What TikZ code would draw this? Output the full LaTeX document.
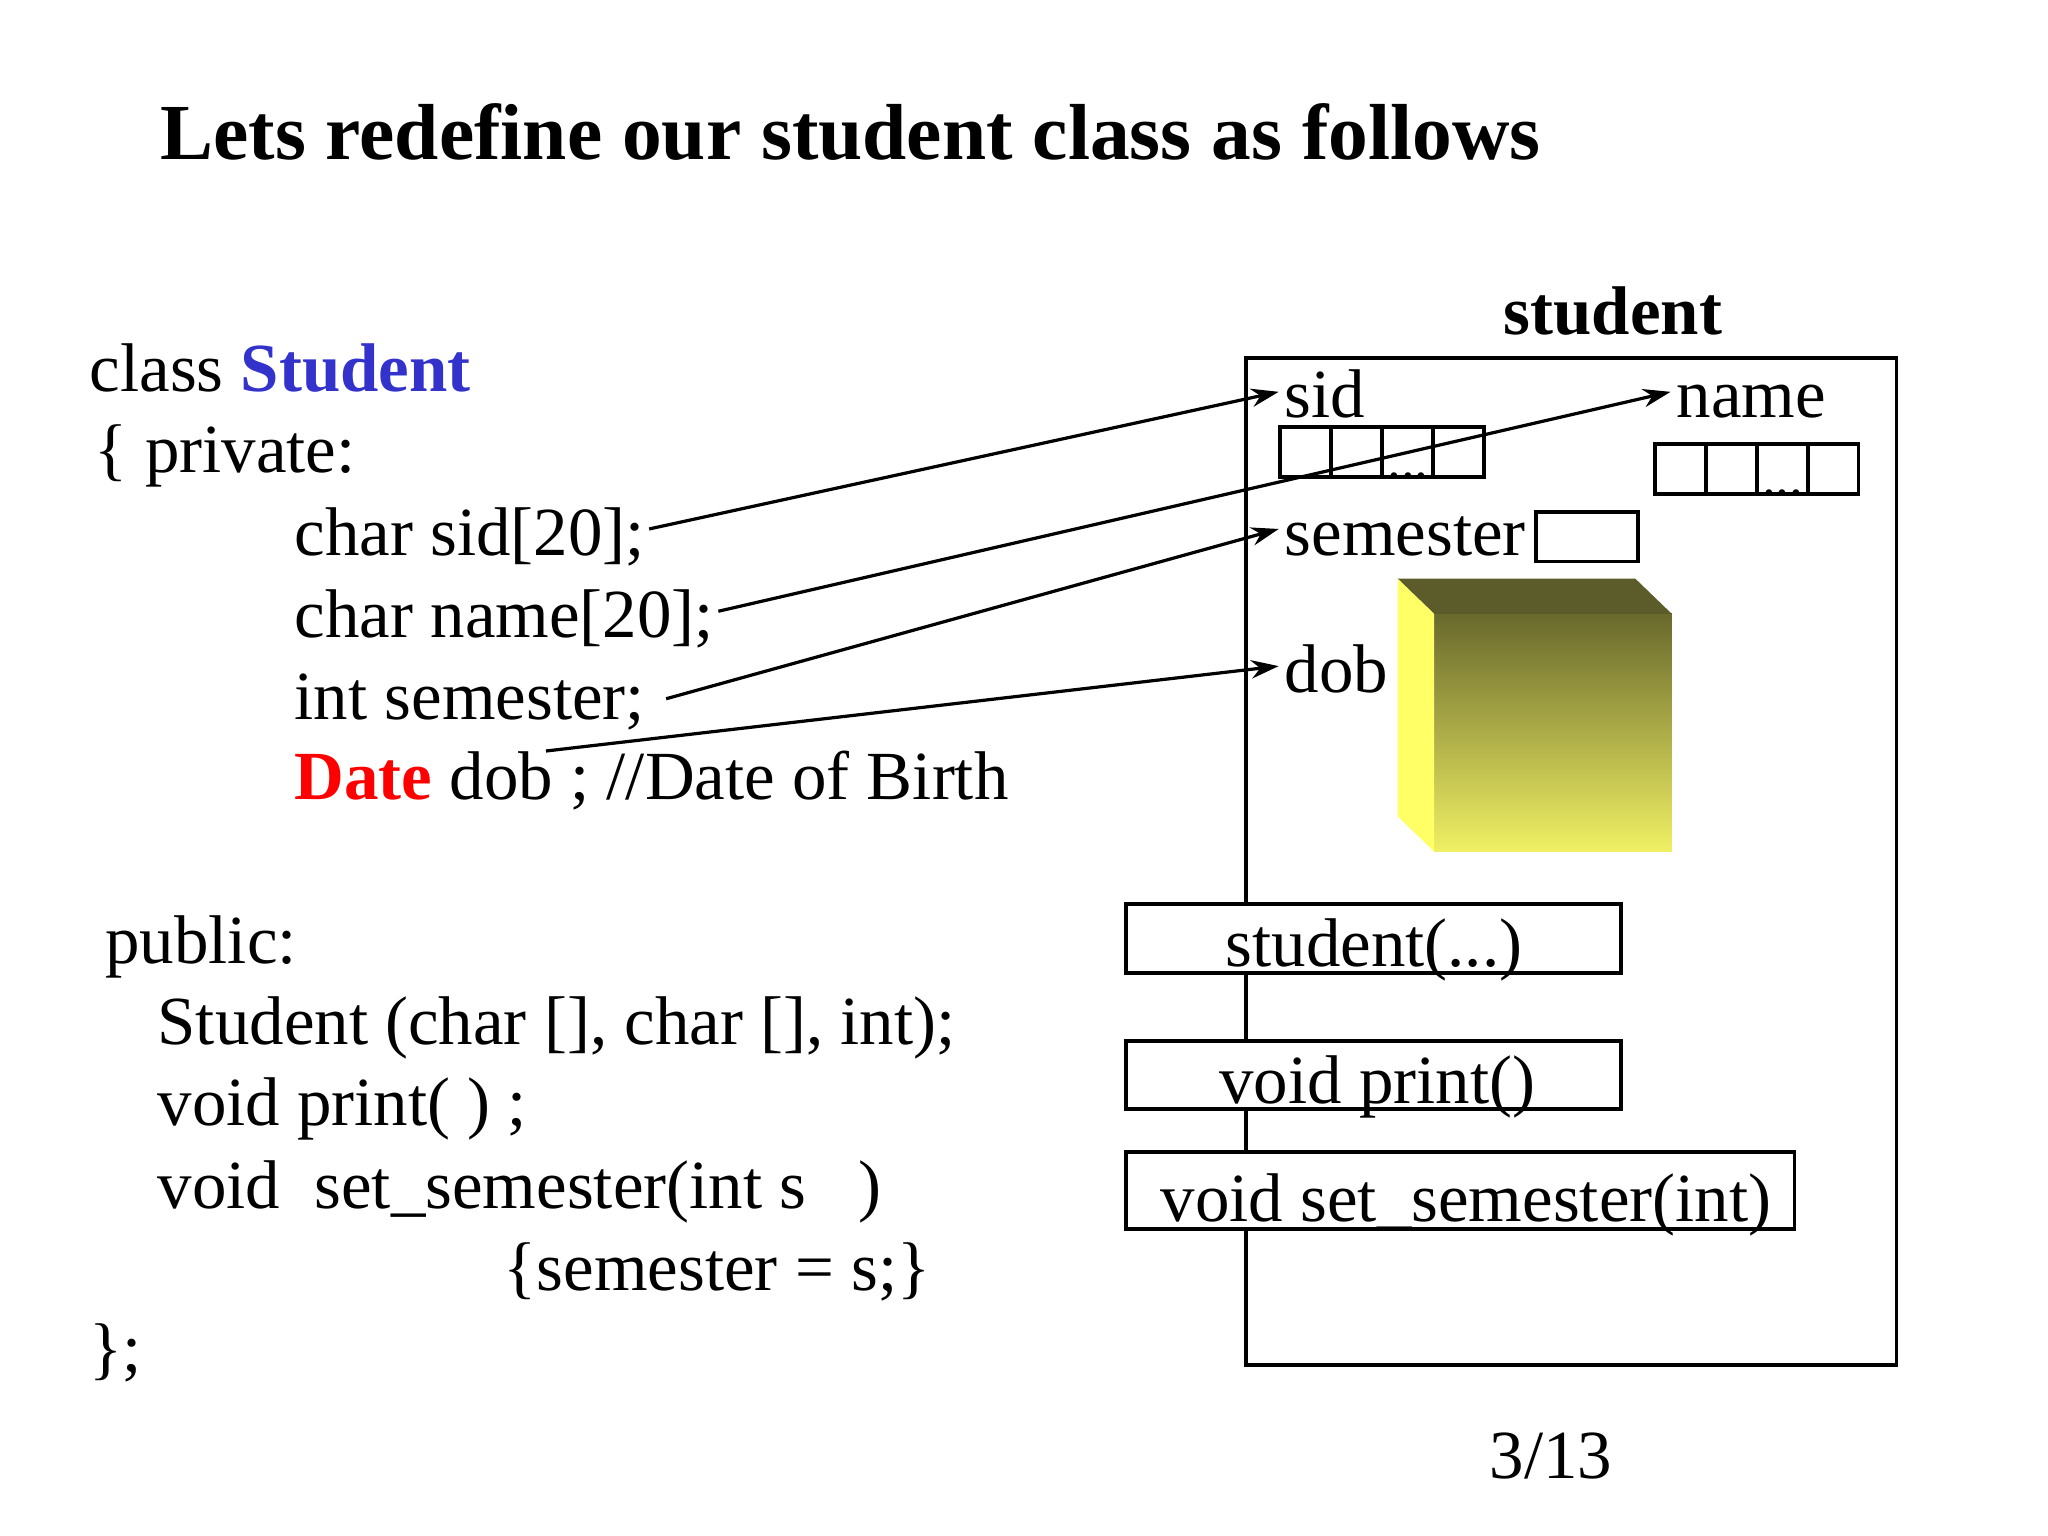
\documentclass[tikz,border=0pt]{standalone}
\usepackage{fontspec}
\setmainfont{Liberation Serif}
\usetikzlibrary{arrows.meta}
\definecolor{cubetop}{RGB}{92,92,42}
\definecolor{cubeleft}{RGB}{255,255,102}
\definecolor{cubehi}{RGB}{105,105,45}
\definecolor{cubelo}{RGB}{240,240,100}
\definecolor{stblue}{HTML}{3333CC}
\begin{document}
\begin{tikzpicture}[x=0.01cm,y=-0.01cm,
  txt/.style={anchor=base west,inner sep=0pt,font=\fontsize{15}{18}\selectfont},
  cell/.style={draw,line width=0.8pt},
  arr/.style={-{Stealth[length=6pt,width=4pt]},line width=0.7pt},
  meth/.style={draw,fill=white,line width=0.8pt}]
\useasboundingbox (0,0) rectangle (1568,1176);
\node[txt,font=\fontsize{17.3}{20}\selectfont\bfseries] (title) at (122,122) {Lets redefine our student class as follows};
% left code
\node[txt] (l1) at (68,300) {class \textcolor{stblue}{\bfseries Student}};
\node[txt] (l2) at (72,362) {\{ private:};
\node[txt] (l3) at (225,425) {char sid[20];};
\node[txt] (l4) at (225,488) {char name[20];};
\node[txt] (l5) at (225,551) {int semester;};
\node[txt] (l6) at (225,612) {\textcolor{red}{\bfseries Date} dob ; //Date of Birth};
\node[txt] (l7) at (80,738) {public:};
\node[txt] (l8) at (120,800) {Student (char [], char [], int);};
\node[txt] (l9) at (120,862) {void print( ) ;};
\node[txt] (l10) at (120,925) {void\ \ set\_semester(int s\ \ \ )};
\node[txt] (l11) at (385,988) {\{semester = s;\}};
\node[txt] (l12) at (68,1050) {\};};
% object box
\draw[line width=0.8pt] (954,274) rectangle (1452,1045);
\node[txt,anchor=base,font=\fontsize{15}{18}\selectfont\bfseries] (stl) at (1235,256) {student};
\node[txt] (sid) at (983,320) {sid};
\node[txt] (name) at (1283,320) {name};
\node[txt] (sem) at (983,425) {semester};
\node[txt] (dob) at (983,530) {dob};
\foreach \i in {0,1,2,3}{
  \draw[cell] (980+39*\i,327) rectangle (1019+39*\i,365);
  \draw[cell] (1267+39*\i,340) rectangle (1306+39*\i,378);
}
\node[txt,anchor=base,font=\fontsize{12}{14}\selectfont] (d1) at (1078,366) {...};
\node[txt,anchor=base,font=\fontsize{12}{14}\selectfont] (d2) at (1365,379) {...};
\draw[cell] (1176,392) rectangle (1254,430);
% cube
\shade[top color=cubehi, bottom color=cubelo] (1098,470) rectangle (1280,652);
\fill[cubetop] (1070,443) -- (1252,443) -- (1280,470) -- (1098,470) -- cycle;
\fill[cubeleft] (1070,443) -- (1098,470) -- (1098,652) -- (1070,625) -- cycle;
% methods
\draw[meth] (862,692) rectangle (1241,745);
\node[txt,anchor=base] (m1) at (1052,740) {student(...)};
\draw[meth] (862,797) rectangle (1241,849);
\node[txt] (m2) at (933,845) {void print()};
\draw[meth] (862,882) rectangle (1374,941);
\node[txt] (m3) at (888,935) {void set\_semester(int)};
\node[txt] (pg) at (1140,1132) {3/13};
% arrows
\coordinate (a1) at (497,405); \coordinate (b1) at (979,300);
\coordinate (a2) at (550,468); \coordinate (b2) at (1279,300);
\coordinate (a3) at (510,535); \coordinate (b3) at (979,405);
\coordinate (a4) at (418,575); \coordinate (b4) at (979,510);
\draw[arr] (a1) -- (b1);
\draw[arr] (a2) -- (b2);
\draw[arr] (a3) -- (b3);
\draw[arr] (a4) -- (b4);
\end{tikzpicture}
\end{document}
